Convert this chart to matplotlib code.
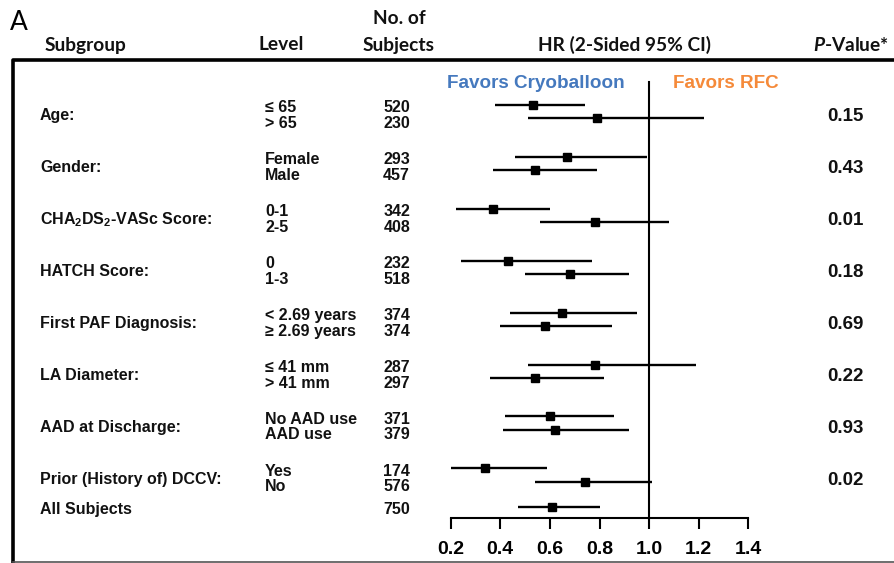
import matplotlib
matplotlib.use("Agg")
import matplotlib.pyplot as plt

plt.rcParams["mathtext.fontset"] = "custom"
plt.rcParams["mathtext.rm"] = "Liberation Sans:bold"
plt.rcParams["mathtext.bf"] = "Liberation Sans:bold"
plt.rcParams["mathtext.it"] = "Lato:bold:italic"

# ---------------- data ----------------
subgroups = ["Age:", "Gender:", r"CHA$_{2}$DS$_{2}$-VASc Score:", "HATCH Score:",
             "First PAF Diagnosis:", "LA Diameter:", "AAD at Discharge:",
             "Prior (History of) DCCV:"]
levels = [["\u2264 65", "> 65"], ["Female", "Male"], ["0-1", "2-5"], ["0", "1-3"],
          ["< 2.69 years", "\u2265 2.69 years"], ["\u2264 41 mm", "> 41 mm"],
          ["No AAD use", "AAD use"], ["Yes", "No"]]
n_subjects = [[520, 230], [293, 457], [342, 408], [232, 518],
              [374, 374], [287, 297], [371, 379], [174, 576]]
hr = [[0.53, 0.79], [0.67, 0.54], [0.37, 0.78], [0.43, 0.68],
      [0.65, 0.58], [0.78, 0.54], [0.60, 0.62], [0.34, 0.74]]
ci_low = [[0.38, 0.51], [0.46, 0.37], [0.22, 0.56], [0.24, 0.50],
          [0.44, 0.40], [0.51, 0.36], [0.42, 0.41], [0.20, 0.54]]
ci_high = [[0.74, 1.22], [0.99, 0.79], [0.60, 1.08], [0.77, 0.92],
           [0.95, 0.85], [1.19, 0.82], [0.86, 0.92], [0.59, 1.01]]
p_values = ["0.15", "0.43", "0.01", "0.18", "0.69", "0.22", "0.93", "0.02"]
all_label = "All Subjects"
all_n = 750
all_hr, all_low, all_high = 0.61, 0.47, 0.80
xticks = [0.2, 0.4, 0.6, 0.8, 1.0, 1.2, 1.4]

# ---------------- layout ----------------
W, H = 894, 563
fig = plt.figure(figsize=(W / 100, H / 100), dpi=100)
bg = fig.add_axes([0, 0, 1, 1])
bg.set_xlim(0, W)
bg.set_ylim(H, 0)
bg.axis("off")

x_left, x_right = 450.7, 748.3   # pixel positions of 0.2 and 1.4
y_axis, y_top = 518.3, 62.0
ax = fig.add_axes([x_left / W, (H - y_axis) / H, (x_right - x_left) / W, (y_axis - y_top) / H])
ax.set_xlim(0.2, 1.4)
ax.set_ylim(y_axis, y_top)
ax.patch.set_alpha(0)
for s in ["top", "right", "left"]:
    ax.spines[s].set_visible(False)
ax.spines["bottom"].set_linewidth(1.5)
ax.set_yticks([])
ax.set_xticks(xticks)
ax.set_xticklabels([f"{t:.1f}" for t in xticks], fontsize=14, fontweight="bold",
                   family="Liberation Sans")
ax.tick_params(axis="x", direction="out", length=8, width=1.5, pad=8)

row0, group_step, pair_step = 105.0, 51.9, 13.3
text_off, text_step = 3.0, 15.5
all_y = 506.7

hdr = dict(family="Lato", fontweight="bold", fontsize=13.8, color="#111111")
lab = dict(family="Liberation Sans", fontweight="bold", fontsize=11.5, color="#111111")

# box
bg.plot([13, 13, W + 5], [563, 60, 60], color="black", lw=2.6, solid_capstyle="butt")
bg.plot([13, W + 5], [561.5, 561.5], color="#555555", lw=1.2)

# headers
bg.text(10, 22, "A", family="Lato", fontsize=19, va="center", ha="left")
bg.text(45, 45, "Subgroup", ha="left", va="center", **hdr)
bg.text(258, 45, "Level", ha="left", va="center", **hdr)
bg.text(399, 19, "No. of", ha="center", va="center", **hdr)
bg.text(399, 45, "Subjects", ha="center", va="center", **hdr)
bg.text(624, 45, "HR (2-Sided 95% CI)", ha="center", va="center", **hdr)
bg.text(889, 45, r"$P$-Value*", ha="right", va="center", **hdr)

bg.text(536, 84, "Favors Cryoballoon", ha="center", va="center", family="Liberation Sans",
        fontweight="bold", fontsize=13.6, color="#4579be")
bg.text(673, 84, "Favors RFC", ha="left", va="center", family="Liberation Sans",
        fontweight="bold", fontsize=13.6, color="#f58a3a")

# reference line
ax.plot([1.0, 1.0], [y_axis, 81.5], color="black", lw=1.5, clip_on=False)

for i, name in enumerate(subgroups):
    y1 = row0 + group_step * i
    ys = [y1, y1 + pair_step]
    yt = [y1 + text_off, y1 + text_off + text_step]
    ym = (yt[0] + yt[1]) / 2
    bg.text(40, ym, name, ha="left", va="center", **lab)
    bg.text(845, ym + 1, p_values[i], ha="center", va="center", family="Liberation Sans",
            fontweight="bold", fontsize=13.5, color="#111111")
    for j in range(2):
        bg.text(265, yt[j], levels[i][j], ha="left", va="center", **lab)
        bg.text(410, yt[j], str(n_subjects[i][j]), ha="right", va="center", **lab)
        ax.plot([ci_low[i][j], ci_high[i][j]], [ys[j], ys[j]], color="black", lw=1.7,
                solid_capstyle="butt")
        ax.plot(hr[i][j], ys[j], marker="s", ms=5.5, color="black")

bg.text(40, all_y + 2.5, all_label, ha="left", va="center", **lab)
bg.text(410, all_y + 2.5, str(all_n), ha="right", va="center", **lab)
ax.plot([all_low, all_high], [all_y, all_y], color="black", lw=1.7, solid_capstyle="butt")
ax.plot(all_hr, all_y, marker="s", ms=5.5, color="black")

fig.savefig("out.png", dpi=100)
